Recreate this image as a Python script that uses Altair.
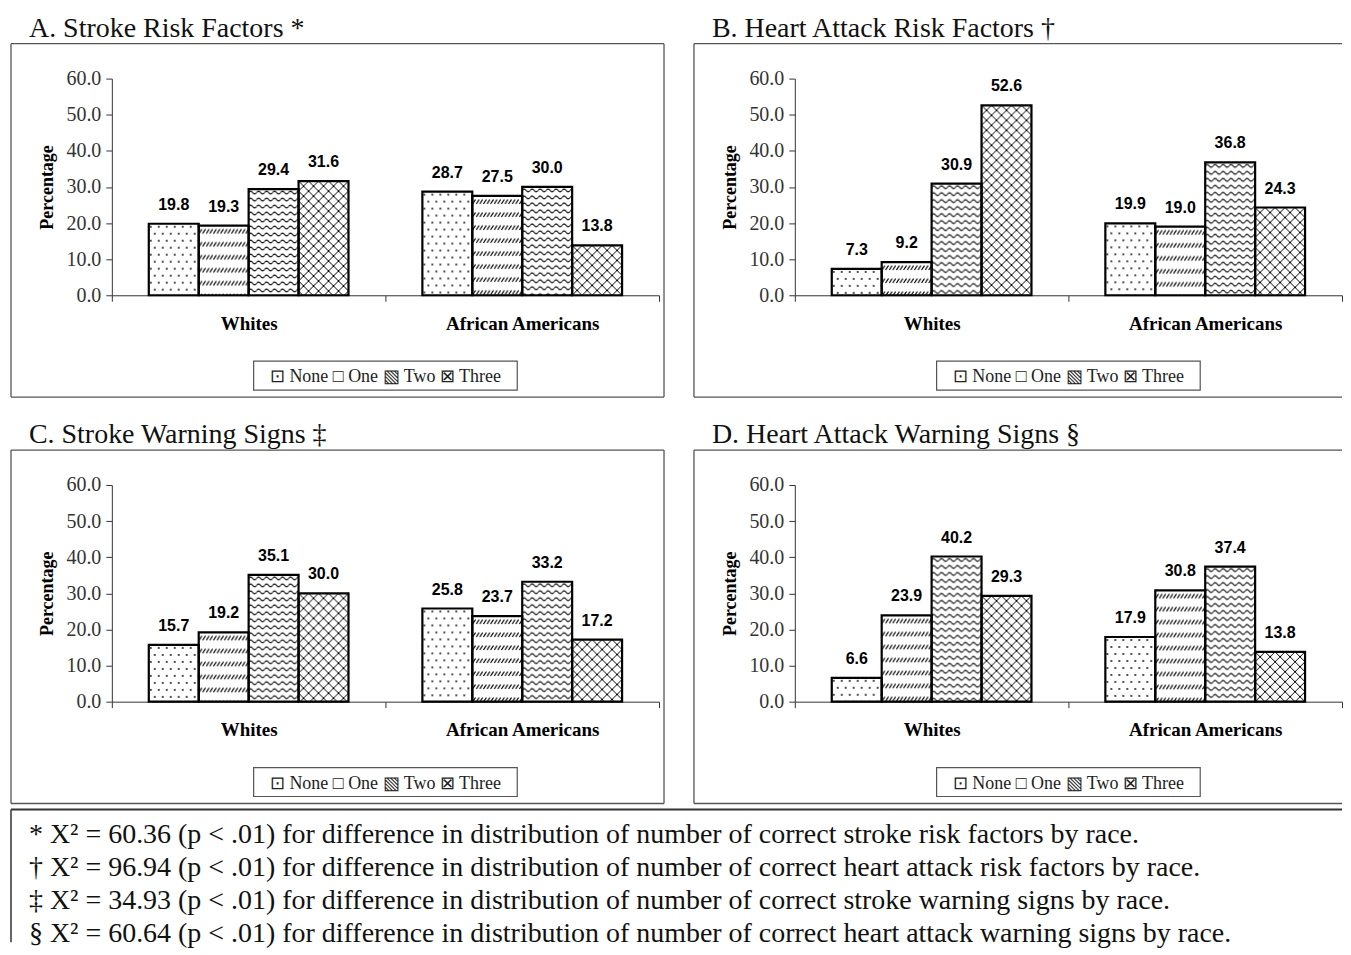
from urllib.parse import quote
import altair as alt
import pandas as pd

# ---------------- data ----------------
groups = ["Whites", "African Americans"]
counts = ["None", "One", "Two", "Three"]

panel_titles = [
    "A. Stroke Risk Factors *",
    "B. Heart Attack Risk Factors \u2020",
    "C. Stroke Warning Signs \u2021",
    "D. Heart Attack Warning Signs \u00a7",
]
whites_pct = [
    [19.8, 19.3, 29.4, 31.6],
    [7.3, 9.2, 30.9, 52.6],
    [15.7, 19.2, 35.1, 30.0],
    [6.6, 23.9, 40.2, 29.3],
]
african_american_pct = [
    [28.7, 27.5, 30.0, 13.8],
    [19.9, 19.0, 36.8, 24.3],
    [25.8, 23.7, 33.2, 17.2],
    [17.9, 30.8, 37.4, 13.8],
]
y_ticks = [0, 10, 20, 30, 40, 50, 60]
legend_line = "\u22a1 None  \u25a1 One  \u25a7 Two  \u22a0 Three"
footnotes = [
    "* X\u00b2 = 60.36 (p < .01) for difference in distribution of number of correct stroke risk factors by race.",
    "\u2020 X\u00b2 = 96.94 (p < .01) for difference in distribution of number of correct heart attack risk factors by race.",
    "\u2021 X\u00b2 = 34.93 (p < .01) for difference in distribution of number of correct stroke warning signs by race.",
    "\u00a7 X\u00b2 = 60.64 (p < .01) for difference in distribution of number of correct heart attack warning signs by race.",
]

# ---------------- styles ----------------
W, H = 548, 217
Y_MAX = 60
PAD_OUT = 0.74
BAR_W = (W / 2) / (4 + 2 * PAD_OUT)
SERIF = "Liberation Serif"
SANS = "Liberation Sans"
BORDER = "#555555"


def q(s):
    return quote(s, safe="")


def pattern_expr(content, tw, th):
    """Vega expression building an SVG data URI whose viewBox matches the bar's pixel size,
    so the hatch pattern is drawn 1:1 inside every bar."""
    p1 = f"<svg xmlns='http://www.w3.org/2000/svg' width='{BAR_W}' height='"
    p2 = f"' viewBox='0 0 {BAR_W} "
    p3 = (
        "' preserveAspectRatio='none'><defs>"
        f"<pattern id='p' x='0' y='0' width='{tw}' height='{th}' patternUnits='userSpaceOnUse'>"
        f"{content}</pattern></defs>"
        "<rect x='0' y='0' width='100%' height='100%' fill='url(#p)'/></svg>"
    )
    return (
        f"'data:image/svg+xml;charset=utf-8,{q(p1)}' + datum.hpx + '{q(p2)}' + datum.hpx + '{q(p3)}'"
    )


PATTERNS = {
    "None": pattern_expr(
        "<circle cx='2' cy='3' r='0.9' fill='black'/><circle cx='6' cy='10' r='0.9' fill='black'/>", 8, 14
    ),
    "One": pattern_expr(
        "<path d='M0.4 8 L3.2 3.5' stroke='black' stroke-width='1.1' fill='none'/>", 3.6, 13
    ),
    "Two": pattern_expr(
        "<path d='M0 3.5 Q2 0.8 4 3.5 T8 3.5' stroke='black' stroke-width='1.1' fill='none'/>", 8, 7
    ),
    "Three": pattern_expr(
        "<path d='M0 0 L10 10 M10 0 L0 10' stroke='black' stroke-width='1' fill='none'/>", 10, 10
    ),
}

one_row = alt.Data(values=[{"k": 0}])


def rule(x, x2, y, y2, color=BORDER, width=1.3):
    return alt.Chart(one_row).mark_rule(color=color, strokeWidth=width).encode(
        x=alt.value(x), x2=alt.value(x2), y=alt.value(y), y2=alt.value(y2)
    )


def panel(i, right_side, with_footnote):
    df = pd.DataFrame(
        {
            "group": [g for g in groups for _ in counts],
            "ncorrect": counts * 2,
            "pct": whites_pct[i] + african_american_pct[i],
        }
    )
    base = alt.Chart(df).encode(
        x=alt.X(
            "group:N",
            sort=groups,
            title=None,
            scale=alt.Scale(paddingInner=0, paddingOuter=0),
            axis=alt.Axis(
                labelFont=SERIF,
                labelFontWeight="bold",
                labelFontSize=19,
                labelColor="black",
                labelAngle=0,
                labelPadding=13,
                tickSize=6,
                tickBand="extent",
                domainColor="#333333",
                tickColor="#333333",
                grid=False,
            ),
        ),
        xOffset=alt.XOffset(
            "ncorrect:N", sort=counts, scale=alt.Scale(paddingInner=0, paddingOuter=PAD_OUT)
        ),
        y=alt.Y(
            "pct:Q",
            title="Percentage",
            scale=alt.Scale(domain=[0, Y_MAX], nice=False),
            axis=alt.Axis(
                values=y_ticks,
                format=".1f",
                labelFont=SERIF,
                labelFontSize=20,
                labelColor="#333333",
                labelPadding=5,
                tickSize=6,
                domainColor="#333333",
                tickColor="#333333",
                grid=False,
                titleFont=SERIF,
                titleFontSize=18,
                titleFontWeight="bold",
                titleColor="black",
                titlePadding=9,
            ),
        ),
    )
    layers = [base.mark_bar(fill="white", strokeWidth=0)]
    for c in counts:
        layers.append(
            base.transform_filter(alt.datum.ncorrect == c)
            .transform_calculate(hpx=f"datum.pct * {H} / {Y_MAX}")
            .transform_calculate(purl=PATTERNS[c])
            .mark_image(aspect=False)
            .encode(y2=alt.datum(0), url=alt.Url("purl:N"))
        )
    layers.append(base.mark_bar(filled=False, color="black", strokeWidth=2.2))
    layers.append(
        base.mark_text(
            font=SANS, fontWeight="bold", fontSize=16, dy=-14, baseline="alphabetic", color="black"
        ).encode(text=alt.Text("pct:Q", format=".1f"))
    )

    right = W if right_side else W + 5
    layers += [
        rule(-101, right, -35, -35),
        rule(-101, -101, -35, 319),
        rule(-101, right, 319, 319),
    ]
    if not right_side:
        layers.append(rule(right, right, -35, 319))

    # legend box and entries
    layers.append(
        alt.Chart(one_row)
        .mark_rect(fill="white", stroke=BORDER, strokeWidth=1.2)
        .encode(x=alt.value(142), x2=alt.value(406), y=alt.value(283), y2=alt.value(312))
    )
    layers.append(
        alt.Chart(one_row)
        .mark_text(font=SERIF, fontSize=18, align="center", baseline="alphabetic", color="#222222")
        .encode(x=alt.value(274), y=alt.value(304), text=alt.value(legend_line))
    )
    # panel title
    layers.append(
        alt.Chart(one_row)
        .mark_text(font=SERIF, fontSize=28, align="left", baseline="alphabetic", color="#111111")
        .encode(x=alt.value(-83), y=alt.value(-42), text=alt.value(panel_titles[i]))
    )
    if with_footnote:
        layers += [
            rule(-101, 1232, 325, 325, color="#333333", width=2),
            rule(-101, -101, 325, 458, color="#333333", width=1.5),
        ]
        layers.append(
            alt.Chart(one_row)
            .mark_text(
                font=SERIF, fontSize=28, align="left", baseline="alphabetic", lineHeight=33, color="#111111"
            )
            .encode(x=alt.value(-83), y=alt.value(359), text=alt.value(footnotes))
        )
    return alt.layer(*layers).properties(width=W, height=H)


chart = (
    alt.concat(
        panel(0, False, False),
        panel(1, True, False),
        panel(2, False, True),
        panel(3, True, False),
        columns=2,
        spacing={"row": 190, "column": 136},
        bounds="flush",
    )
    .properties(padding={"left": 2, "top": 6, "right": 0, "bottom": 0}, background="white")
    .configure_view(stroke=None)
)

chart.save("out.html", embed_options={"renderer": "svg", "actions": False})
